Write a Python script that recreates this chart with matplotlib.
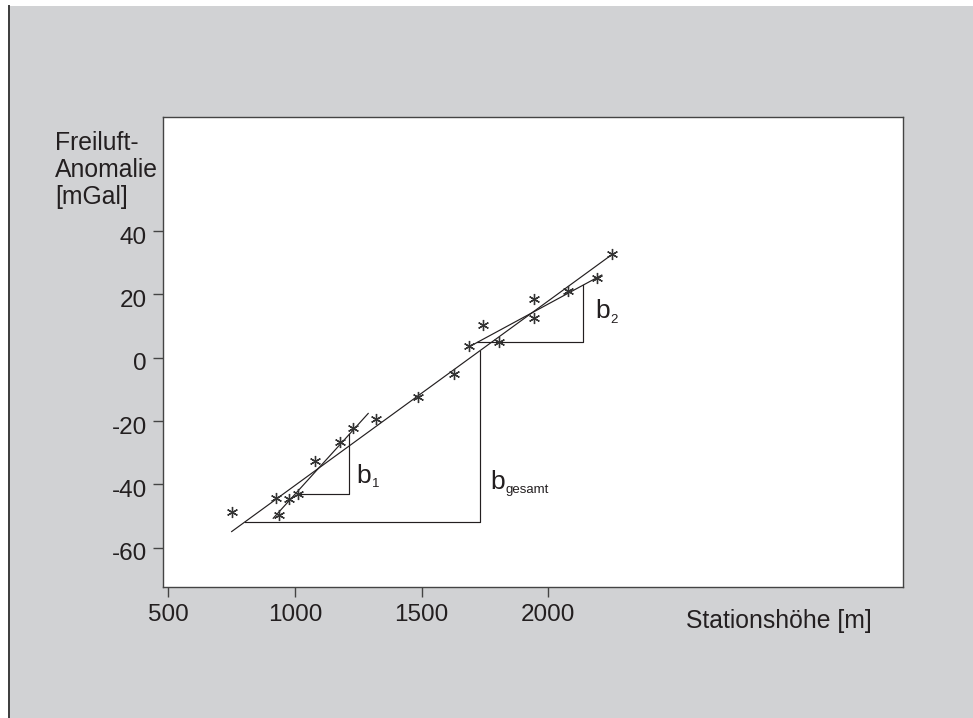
import matplotlib
matplotlib.use("Agg")
import matplotlib.pyplot as plt
import matplotlib.transforms as mtransforms
from matplotlib.patches import Rectangle
from matplotlib.lines import Line2D
import numpy as np

plt.rcParams['font.family'] = ['Liberation Sans', 'DejaVu Sans']

# station height [m] and free-air anomaly [mGal] of the measured points
hoehe = [750, 925, 937, 978, 1013, 1079, 1178, 1228, 1318, 1487,
         1628, 1688, 1741, 1804, 1943, 1943, 2078, 2193, 2250]
anomalie = [-48.6, -44.4, -49.7, -44.7, -43.0, -32.5, -26.7, -22.1, -19.4, -12.5,
            -5.2, 3.8, 10.3, 5.1, 18.5, 12.4, 21.1, 25.3, 32.7]

# regression lines (end points)
gesamt_x = [750, 2243]
gesamt_y = [-54.9, 32.1]
b1_x = [914, 1289]
b1_y = [-50.7, -17.6]
b2_x = [1684, 2211]
b2_y = [3.3, 26.1]

# slope triangles (horizontal leg then vertical leg)
tri_gesamt_x = [801, 1730, 1730]
tri_gesamt_y = [-52.0, -52.0, 2.2]
tri_b1_x = [1013, 1214, 1214]
tri_b1_y = [-43.0, -43.0, -24.2]
tri_b2_x = [1720, 2138, 2138]
tri_b2_y = [5.05, 5.05, 22.9]

# label anchors for b's
lab_pos = {'1': (1243, -39.6), 'gesamt': (1770, -41.5), '2': (2184, 12.4)}

xticks = [500, 1000, 1500, 2000]
yticks = [40, 20, 0, -20, -40, -60]

ink = '#231f20'
bg = '#d1d2d4'
W, H = 973, 718

fig = plt.figure(figsize=(W / 100, H / 100), dpi=100, facecolor=bg)

# white margin on the left and top, dark frame line on the left
fig.patches.append(Rectangle((0, 0), 8 / W, 1, transform=fig.transFigure,
                             facecolor='white', edgecolor='none', zorder=-5))
fig.patches.append(Rectangle((0, 1 - 6 / H), 1, 6 / H, transform=fig.transFigure,
                             facecolor='white', edgecolor='none', zorder=-5))
fig.lines.append(Line2D([8.5 / W, 8.5 / W], [0, 1 - 6 / H], transform=fig.transFigure,
                        color='#3c3c3c', lw=1.4))

ax = fig.add_axes([163 / W, 1 - 587 / H, 740 / W, 470 / H])
ax.set_facecolor('white')
ax.set_xlim(479, 3400)
ax.set_ylim(-72.4, 76.0)

for s in ['left', 'right', 'top', 'bottom']:
    ax.spines[s].set_color('#444444')
    ax.spines[s].set_linewidth(1.0)

ax.set_xticks(xticks)
ax.set_yticks(yticks)
ax.set_yticklabels([str(v) for v in yticks])
ax.tick_params(direction='out', length=7.5, width=1.0, color='#444444',
               labelsize=17.5, labelcolor=ink)
ax.tick_params(axis='x', pad=4.5)
ax.tick_params(axis='y', pad=4.0)

shift = mtransforms.ScaledTranslation(0, -3 / 72, fig.dpi_scale_trans)
for lab in ax.get_yticklabels():
    lab.set_transform(lab.get_transform() + shift)

# lines and triangles
lw = 0.85
ax.plot(gesamt_x, gesamt_y, color=ink, lw=lw)
ax.plot(b1_x, b1_y, color=ink, lw=lw)
ax.plot(b2_x, b2_y, color=ink, lw=lw)
ax.plot(tri_gesamt_x, tri_gesamt_y, color=ink, lw=lw)
ax.plot(tri_b1_x, tri_b1_y, color=ink, lw=lw)
ax.plot(tri_b2_x, tri_b2_y, color=ink, lw=lw)

# measured points as asterisks
ax.plot(hoehe, anomalie, linestyle='none', marker=(6, 2, 0), markersize=8,
        markeredgewidth=0.95, color='#333333', zorder=3)

# b labels with small subscripts
for sub, (bx, by) in lab_pos.items():
    ax.text(bx, by, 'b', fontsize=19, color=ink, ha='left', va='baseline')
    ax.annotate(sub, (bx, by), xytext=(11, -3), textcoords='offset points',
                fontsize=9.5, color=ink, ha='left', va='baseline')

# axis titles
fig.text(55 / W, 1 - 150 / H, 'Freiluft-', fontsize=17.8, color=ink, va='baseline')
fig.text(55 / W, 1 - 177 / H, 'Anomalie', fontsize=17.8, color=ink, va='baseline')
fig.text(55 / W, 1 - 204 / H, '[mGal]', fontsize=17.8, color=ink, va='baseline')
fig.text(686 / W, 1 - 628 / H, 'Stationshöhe [m]', fontsize=17.8, color=ink, va='baseline')

fig.savefig('out.png', dpi=100, facecolor=fig.get_facecolor())
